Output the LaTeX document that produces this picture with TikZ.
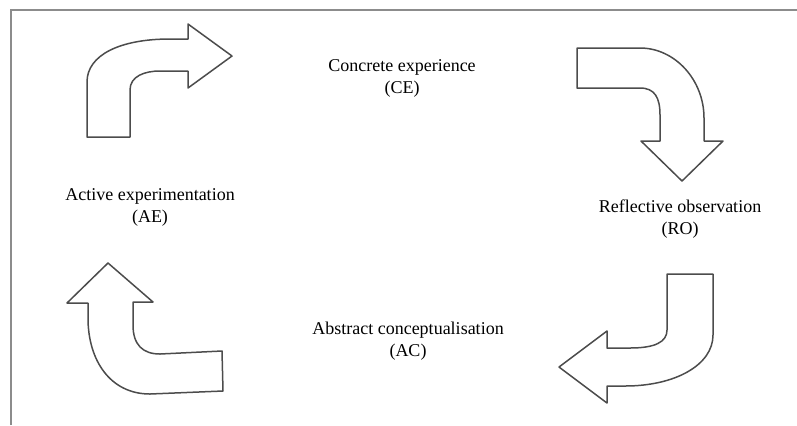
\documentclass[tikz,border=0pt]{standalone}
\usepackage{fontspec}
\setmainfont{Liberation Serif}
\begin{document}
\begin{tikzpicture}[x=0.5pt,y=-0.5pt,
    shaft/.style={draw=black!70,line width=0.75pt,line join=round},
    stage/.style={align=center,font=\fontsize{9}{11}\selectfont,text=black}]
  \useasboundingbox (0,0) rectangle (797,425);
  \draw [black!45,line width=1.1pt] (11,425) -- (11,10) -- (797,10);
  \node[stage] (ce) at (402,78) {Concrete experience\\(CE)};
  \node[stage] (ro) at (680,219) {Reflective observation\\(RO)};
  \node[stage] (ac) at (408,341) {Abstract conceptualisation\\(AC)};
  \node[stage] (ae) at (150,207) {Active experimentation\\(AE)};
  \draw [shaft] (87,137) -- (87,82) .. controls (87,55) and (120,39) .. (170,39) -- (188,39)
    -- (188,24) -- (232,56) -- (188,88) -- (188,71) -- (160,71)
    .. controls (145,71) and (130,76) .. (130,90) -- (130,137) -- cycle;
  \draw [shaft] (577,48) -- (640,48) .. controls (675,48) and (704,80) .. (704,118) -- (704,141)
    -- (723,141) -- (682,181) -- (641,141) -- (660,141) -- (660,115)
    .. controls (660,98) and (655,88) .. (640,88) -- (577,88) -- cycle;
  \draw [shaft] (667,274) -- (713,274) -- (713,335) .. controls (713,365) and (675,386) .. (625,386)
    -- (607,386) -- (607,403) -- (559,367) -- (607,331) -- (607,348) -- (630,348)
    .. controls (655,348) and (667,342) .. (667,330) -- cycle;
  \draw [shaft] (108,263) -- (153,302) -- (133,302) -- (133,325) .. controls (133,345) and (143,354) .. (160,354)
    -- (222,351) -- (223,391) -- (150,394) .. controls (110,394) and (88,360) .. (88,318)
    -- (88,303) -- (67,303) -- cycle;
\end{tikzpicture}
\end{document}
